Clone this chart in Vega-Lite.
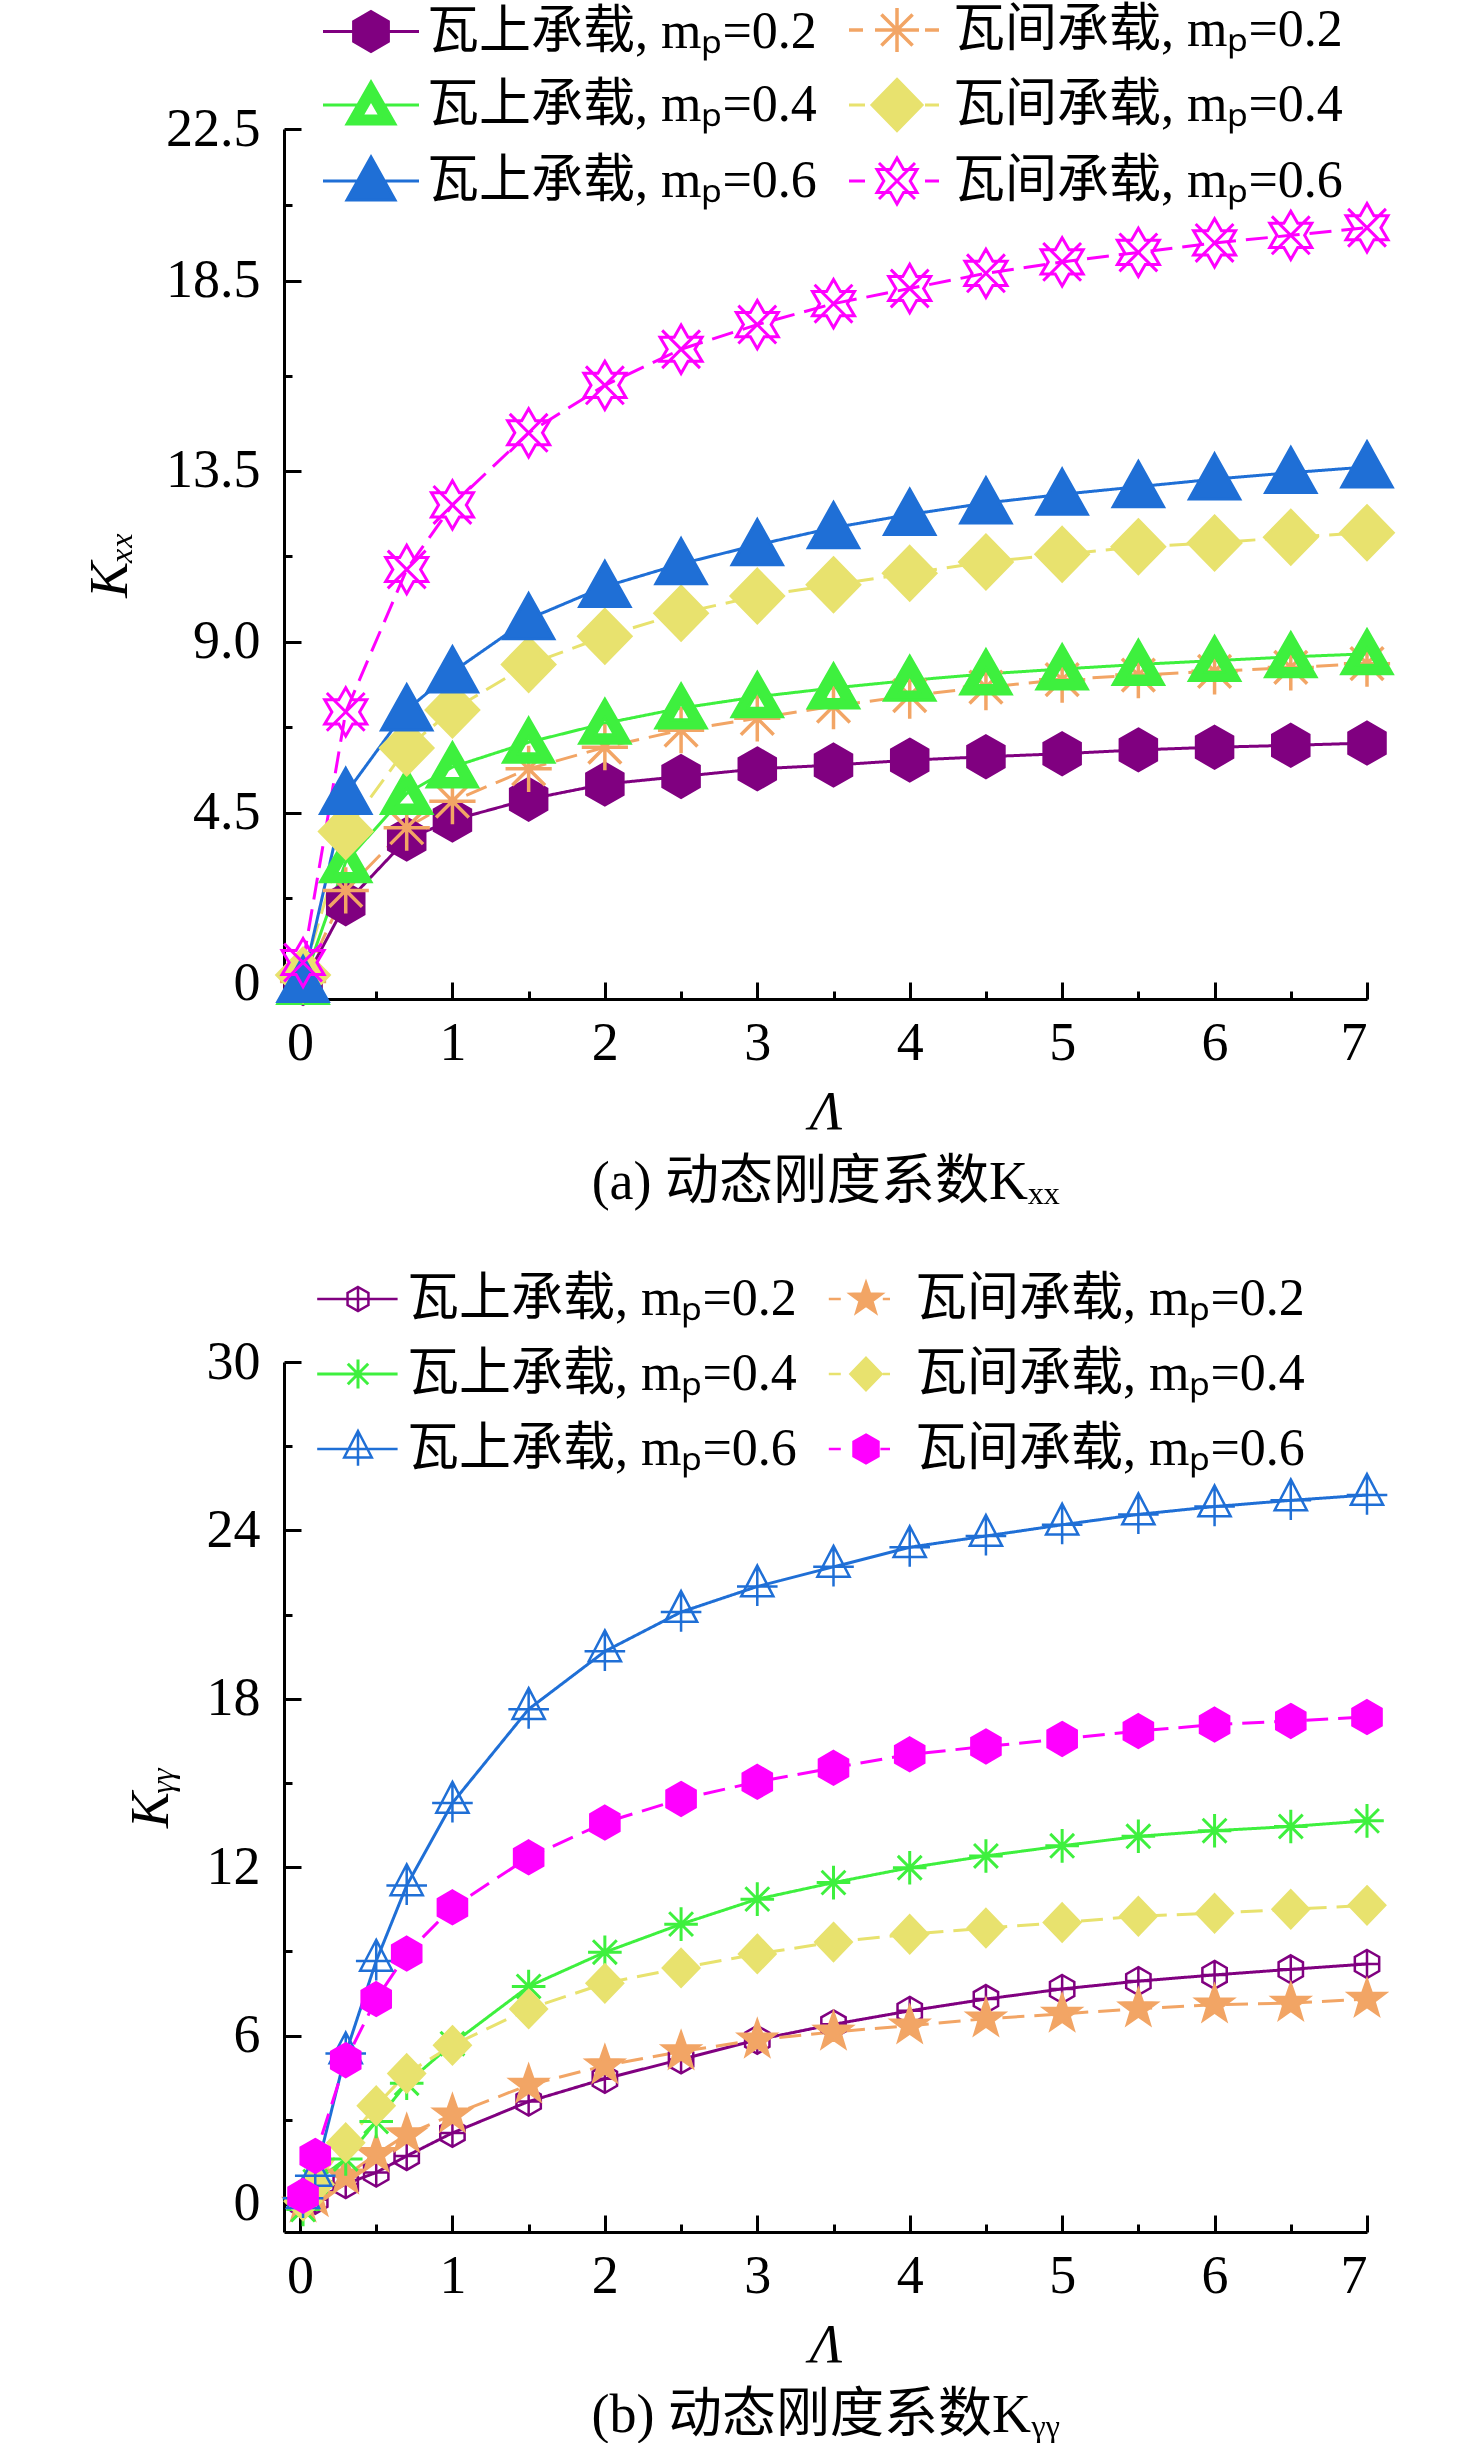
{
  "$schema": "https://vega.github.io/schema/vega-lite/v6.json",
  "background": "white",
  "padding": {"left": 83, "top": 4, "right": 0, "bottom": 0},
  "spacing": 63,
  "config": {
    "view": {"stroke": null},
    "font": "'Liberation Serif', 'Noto Sans CJK SC', serif",
    "axis": {
      "grid": false, "domainColor": "black", "domainWidth": 3, "tickColor": "black", "tickWidth": 3,
      "labelColor": "black", "labelFontSize": 54, "labelFont": "'Liberation Serif', 'Noto Sans CJK SC', serif",
      "titleFont": "'Liberation Serif', 'Noto Sans CJK SC', serif", "titleFontSize": 54, "titleFontWeight": "normal",
      "titleColor": "black", "titleFontStyle": "italic"
    },
    "legend": {"labelFont": "'Liberation Serif', 'Noto Sans CJK SC', serif", "labelFontSize": 52, "labelColor": "black", "labelLimit": 0},
    "title": {"font": "'Liberation Serif', 'Noto Sans CJK SC', serif", "fontSize": 54, "fontWeight": "normal", "color": "black"}
  },
  "datasets": {
    "kxx": [
      {"series": "瓦上承载, mₚ=0.2", "bearing": "瓦上承载", "lam": 0.02, "k": 0},
      {"series": "瓦上承载, mₚ=0.2", "bearing": "瓦上承载", "lam": 0.3, "k": 2.1},
      {"series": "瓦上承载, mₚ=0.2", "bearing": "瓦上承载", "lam": 0.7, "k": 3.8},
      {"series": "瓦上承载, mₚ=0.2", "bearing": "瓦上承载", "lam": 1, "k": 4.3},
      {"series": "瓦上承载, mₚ=0.2", "bearing": "瓦上承载", "lam": 1.5, "k": 4.85},
      {"series": "瓦上承载, mₚ=0.2", "bearing": "瓦上承载", "lam": 2, "k": 5.25},
      {"series": "瓦上承载, mₚ=0.2", "bearing": "瓦上承载", "lam": 2.5, "k": 5.45},
      {"series": "瓦上承载, mₚ=0.2", "bearing": "瓦上承载", "lam": 3, "k": 5.65},
      {"series": "瓦上承载, mₚ=0.2", "bearing": "瓦上承载", "lam": 3.5, "k": 5.75},
      {"series": "瓦上承载, mₚ=0.2", "bearing": "瓦上承载", "lam": 4, "k": 5.88},
      {"series": "瓦上承载, mₚ=0.2", "bearing": "瓦上承载", "lam": 4.5, "k": 5.97},
      {"series": "瓦上承载, mₚ=0.2", "bearing": "瓦上承载", "lam": 5, "k": 6.05},
      {"series": "瓦上承载, mₚ=0.2", "bearing": "瓦上承载", "lam": 5.5, "k": 6.15},
      {"series": "瓦上承载, mₚ=0.2", "bearing": "瓦上承载", "lam": 6, "k": 6.22},
      {"series": "瓦上承载, mₚ=0.2", "bearing": "瓦上承载", "lam": 6.5, "k": 6.27},
      {"series": "瓦上承载, mₚ=0.2", "bearing": "瓦上承载", "lam": 7, "k": 6.33},
      {"series": "瓦间承载, mₚ=0.2", "bearing": "瓦间承载", "lam": 0.02, "k": 0.05},
      {"series": "瓦间承载, mₚ=0.2", "bearing": "瓦间承载", "lam": 0.3, "k": 2.45},
      {"series": "瓦间承载, mₚ=0.2", "bearing": "瓦间承载", "lam": 0.7, "k": 4.1},
      {"series": "瓦间承载, mₚ=0.2", "bearing": "瓦间承载", "lam": 1, "k": 4.8},
      {"series": "瓦间承载, mₚ=0.2", "bearing": "瓦间承载", "lam": 1.5, "k": 5.65},
      {"series": "瓦间承载, mₚ=0.2", "bearing": "瓦间承载", "lam": 2, "k": 6.22},
      {"series": "瓦间承载, mₚ=0.2", "bearing": "瓦间承载", "lam": 2.5, "k": 6.67},
      {"series": "瓦间承载, mₚ=0.2", "bearing": "瓦间承载", "lam": 3, "k": 6.98},
      {"series": "瓦间承载, mₚ=0.2", "bearing": "瓦间承载", "lam": 3.5, "k": 7.3},
      {"series": "瓦间承载, mₚ=0.2", "bearing": "瓦间承载", "lam": 4, "k": 7.58},
      {"series": "瓦间承载, mₚ=0.2", "bearing": "瓦间承载", "lam": 4.5, "k": 7.8},
      {"series": "瓦间承载, mₚ=0.2", "bearing": "瓦间承载", "lam": 5, "k": 8.0},
      {"series": "瓦间承载, mₚ=0.2", "bearing": "瓦间承载", "lam": 5.5, "k": 8.12},
      {"series": "瓦间承载, mₚ=0.2", "bearing": "瓦间承载", "lam": 6, "k": 8.22},
      {"series": "瓦间承载, mₚ=0.2", "bearing": "瓦间承载", "lam": 6.5, "k": 8.32},
      {"series": "瓦间承载, mₚ=0.2", "bearing": "瓦间承载", "lam": 7, "k": 8.42},
      {"series": "瓦上承载, mₚ=0.4", "bearing": "瓦上承载", "lam": 0.02, "k": 0},
      {"series": "瓦上承载, mₚ=0.4", "bearing": "瓦上承载", "lam": 0.3, "k": 3.2},
      {"series": "瓦上承载, mₚ=0.4", "bearing": "瓦上承载", "lam": 0.7, "k": 5.0},
      {"series": "瓦上承载, mₚ=0.4", "bearing": "瓦上承载", "lam": 1, "k": 5.7},
      {"series": "瓦上承载, mₚ=0.4", "bearing": "瓦上承载", "lam": 1.5, "k": 6.35},
      {"series": "瓦上承载, mₚ=0.4", "bearing": "瓦上承载", "lam": 2, "k": 6.85},
      {"series": "瓦上承载, mₚ=0.4", "bearing": "瓦上承载", "lam": 2.5, "k": 7.25},
      {"series": "瓦上承载, mₚ=0.4", "bearing": "瓦上承载", "lam": 3, "k": 7.55},
      {"series": "瓦上承载, mₚ=0.4", "bearing": "瓦上承载", "lam": 3.5, "k": 7.78},
      {"series": "瓦上承载, mₚ=0.4", "bearing": "瓦上承载", "lam": 4, "k": 7.98},
      {"series": "瓦上承载, mₚ=0.4", "bearing": "瓦上承载", "lam": 4.5, "k": 8.15},
      {"series": "瓦上承载, mₚ=0.4", "bearing": "瓦上承载", "lam": 5, "k": 8.28},
      {"series": "瓦上承载, mₚ=0.4", "bearing": "瓦上承载", "lam": 5.5, "k": 8.4},
      {"series": "瓦上承载, mₚ=0.4", "bearing": "瓦上承载", "lam": 6, "k": 8.5},
      {"series": "瓦上承载, mₚ=0.4", "bearing": "瓦上承载", "lam": 6.5, "k": 8.6},
      {"series": "瓦上承载, mₚ=0.4", "bearing": "瓦上承载", "lam": 7, "k": 8.68},
      {"series": "瓦间承载, mₚ=0.4", "bearing": "瓦间承载", "lam": 0.02, "k": 0.22},
      {"series": "瓦间承载, mₚ=0.4", "bearing": "瓦间承载", "lam": 0.3, "k": 4.0},
      {"series": "瓦间承载, mₚ=0.4", "bearing": "瓦间承载", "lam": 0.7, "k": 6.2},
      {"series": "瓦间承载, mₚ=0.4", "bearing": "瓦间承载", "lam": 1, "k": 7.2},
      {"series": "瓦间承载, mₚ=0.4", "bearing": "瓦间承载", "lam": 1.5, "k": 8.4},
      {"series": "瓦间承载, mₚ=0.4", "bearing": "瓦间承载", "lam": 2, "k": 9.14},
      {"series": "瓦间承载, mₚ=0.4", "bearing": "瓦间承载", "lam": 2.5, "k": 9.75},
      {"series": "瓦间承载, mₚ=0.4", "bearing": "瓦间承载", "lam": 3, "k": 10.2},
      {"series": "瓦间承载, mₚ=0.4", "bearing": "瓦间承载", "lam": 3.5, "k": 10.5},
      {"series": "瓦间承载, mₚ=0.4", "bearing": "瓦间承载", "lam": 4, "k": 10.8},
      {"series": "瓦间承载, mₚ=0.4", "bearing": "瓦间承载", "lam": 4.5, "k": 11.1},
      {"series": "瓦间承载, mₚ=0.4", "bearing": "瓦间承载", "lam": 5, "k": 11.3},
      {"series": "瓦间承载, mₚ=0.4", "bearing": "瓦间承载", "lam": 5.5, "k": 11.5},
      {"series": "瓦间承载, mₚ=0.4", "bearing": "瓦间承载", "lam": 6, "k": 11.6},
      {"series": "瓦间承载, mₚ=0.4", "bearing": "瓦间承载", "lam": 6.5, "k": 11.75},
      {"series": "瓦间承载, mₚ=0.4", "bearing": "瓦间承载", "lam": 7, "k": 11.87},
      {"series": "瓦上承载, mₚ=0.6", "bearing": "瓦上承载", "lam": 0.02, "k": 0.05},
      {"series": "瓦上承载, mₚ=0.6", "bearing": "瓦上承载", "lam": 0.3, "k": 5.0},
      {"series": "瓦上承载, mₚ=0.6", "bearing": "瓦上承载", "lam": 0.7, "k": 7.2},
      {"series": "瓦上承载, mₚ=0.6", "bearing": "瓦上承载", "lam": 1, "k": 8.2},
      {"series": "瓦上承载, mₚ=0.6", "bearing": "瓦上承载", "lam": 1.5, "k": 9.6},
      {"series": "瓦上承载, mₚ=0.6", "bearing": "瓦上承载", "lam": 2, "k": 10.45},
      {"series": "瓦上承载, mₚ=0.6", "bearing": "瓦上承载", "lam": 2.5, "k": 11.05},
      {"series": "瓦上承载, mₚ=0.6", "bearing": "瓦上承载", "lam": 3, "k": 11.55},
      {"series": "瓦上承载, mₚ=0.6", "bearing": "瓦上承载", "lam": 3.5, "k": 12.0},
      {"series": "瓦上承载, mₚ=0.6", "bearing": "瓦上承载", "lam": 4, "k": 12.35},
      {"series": "瓦上承载, mₚ=0.6", "bearing": "瓦上承载", "lam": 4.5, "k": 12.65},
      {"series": "瓦上承载, mₚ=0.6", "bearing": "瓦上承载", "lam": 5, "k": 12.88},
      {"series": "瓦上承载, mₚ=0.6", "bearing": "瓦上承载", "lam": 5.5, "k": 13.08},
      {"series": "瓦上承载, mₚ=0.6", "bearing": "瓦上承载", "lam": 6, "k": 13.28},
      {"series": "瓦上承载, mₚ=0.6", "bearing": "瓦上承载", "lam": 6.5, "k": 13.45},
      {"series": "瓦上承载, mₚ=0.6", "bearing": "瓦上承载", "lam": 7, "k": 13.6},
      {"series": "瓦间承载, mₚ=0.6", "bearing": "瓦间承载", "lam": 0.02, "k": 0.55},
      {"series": "瓦间承载, mₚ=0.6", "bearing": "瓦间承载", "lam": 0.3, "k": 7.15},
      {"series": "瓦间承载, mₚ=0.6", "bearing": "瓦间承载", "lam": 0.7, "k": 10.9},
      {"series": "瓦间承载, mₚ=0.6", "bearing": "瓦间承载", "lam": 1, "k": 12.6},
      {"series": "瓦间承载, mₚ=0.6", "bearing": "瓦间承载", "lam": 1.5, "k": 14.5},
      {"series": "瓦间承载, mₚ=0.6", "bearing": "瓦间承载", "lam": 2, "k": 15.75},
      {"series": "瓦间承载, mₚ=0.6", "bearing": "瓦间承载", "lam": 2.5, "k": 16.7},
      {"series": "瓦间承载, mₚ=0.6", "bearing": "瓦间承载", "lam": 3, "k": 17.35},
      {"series": "瓦间承载, mₚ=0.6", "bearing": "瓦间承载", "lam": 3.5, "k": 17.9},
      {"series": "瓦间承载, mₚ=0.6", "bearing": "瓦间承载", "lam": 4, "k": 18.3},
      {"series": "瓦间承载, mₚ=0.6", "bearing": "瓦间承载", "lam": 4.5, "k": 18.7},
      {"series": "瓦间承载, mₚ=0.6", "bearing": "瓦间承载", "lam": 5, "k": 19.0},
      {"series": "瓦间承载, mₚ=0.6", "bearing": "瓦间承载", "lam": 5.5, "k": 19.25},
      {"series": "瓦间承载, mₚ=0.6", "bearing": "瓦间承载", "lam": 6, "k": 19.5},
      {"series": "瓦间承载, mₚ=0.6", "bearing": "瓦间承载", "lam": 6.5, "k": 19.7},
      {"series": "瓦间承载, mₚ=0.6", "bearing": "瓦间承载", "lam": 7, "k": 19.9}
    ],
    "kyy": [
      {"series": "瓦上承载, mₚ=0.2", "bearing": "瓦上承载", "lam": 0.02, "k": 0},
      {"series": "瓦上承载, mₚ=0.2", "bearing": "瓦上承载", "lam": 0.1, "k": 0.15},
      {"series": "瓦上承载, mₚ=0.2", "bearing": "瓦上承载", "lam": 0.3, "k": 0.71},
      {"series": "瓦上承载, mₚ=0.2", "bearing": "瓦上承载", "lam": 0.5, "k": 1.12},
      {"series": "瓦上承载, mₚ=0.2", "bearing": "瓦上承载", "lam": 0.7, "k": 1.71},
      {"series": "瓦上承载, mₚ=0.2", "bearing": "瓦上承载", "lam": 1, "k": 2.53},
      {"series": "瓦上承载, mₚ=0.2", "bearing": "瓦上承载", "lam": 1.5, "k": 3.65},
      {"series": "瓦上承载, mₚ=0.2", "bearing": "瓦上承载", "lam": 2, "k": 4.46},
      {"series": "瓦上承载, mₚ=0.2", "bearing": "瓦上承载", "lam": 2.5, "k": 5.15},
      {"series": "瓦上承载, mₚ=0.2", "bearing": "瓦上承载", "lam": 3, "k": 5.85},
      {"series": "瓦上承载, mₚ=0.2", "bearing": "瓦上承载", "lam": 3.5, "k": 6.4},
      {"series": "瓦上承载, mₚ=0.2", "bearing": "瓦上承载", "lam": 4, "k": 6.88},
      {"series": "瓦上承载, mₚ=0.2", "bearing": "瓦上承载", "lam": 4.5, "k": 7.3},
      {"series": "瓦上承载, mₚ=0.2", "bearing": "瓦上承载", "lam": 5, "k": 7.66},
      {"series": "瓦上承载, mₚ=0.2", "bearing": "瓦上承载", "lam": 5.5, "k": 7.94},
      {"series": "瓦上承载, mₚ=0.2", "bearing": "瓦上承载", "lam": 6, "k": 8.16},
      {"series": "瓦上承载, mₚ=0.2", "bearing": "瓦上承载", "lam": 6.5, "k": 8.36},
      {"series": "瓦上承载, mₚ=0.2", "bearing": "瓦上承载", "lam": 7, "k": 8.55},
      {"series": "瓦间承载, mₚ=0.2", "bearing": "瓦间承载", "lam": 0.02, "k": 0},
      {"series": "瓦间承载, mₚ=0.2", "bearing": "瓦间承载", "lam": 0.1, "k": 0.2},
      {"series": "瓦间承载, mₚ=0.2", "bearing": "瓦间承载", "lam": 0.3, "k": 1.0},
      {"series": "瓦间承载, mₚ=0.2", "bearing": "瓦间承载", "lam": 0.5, "k": 1.77},
      {"series": "瓦间承载, mₚ=0.2", "bearing": "瓦间承载", "lam": 0.7, "k": 2.47},
      {"series": "瓦间承载, mₚ=0.2", "bearing": "瓦间承载", "lam": 1, "k": 3.18},
      {"series": "瓦间承载, mₚ=0.2", "bearing": "瓦间承载", "lam": 1.5, "k": 4.24},
      {"series": "瓦间承载, mₚ=0.2", "bearing": "瓦间承载", "lam": 2, "k": 4.93},
      {"series": "瓦间承载, mₚ=0.2", "bearing": "瓦间承载", "lam": 2.5, "k": 5.43},
      {"series": "瓦间承载, mₚ=0.2", "bearing": "瓦间承载", "lam": 3, "k": 5.85},
      {"series": "瓦间承载, mₚ=0.2", "bearing": "瓦间承载", "lam": 3.5, "k": 6.13},
      {"series": "瓦间承载, mₚ=0.2", "bearing": "瓦间承载", "lam": 4, "k": 6.35},
      {"series": "瓦间承载, mₚ=0.2", "bearing": "瓦间承载", "lam": 4.5, "k": 6.6},
      {"series": "瓦间承载, mₚ=0.2", "bearing": "瓦间承载", "lam": 5, "k": 6.77},
      {"series": "瓦间承载, mₚ=0.2", "bearing": "瓦间承载", "lam": 5.5, "k": 6.96},
      {"series": "瓦间承载, mₚ=0.2", "bearing": "瓦间承载", "lam": 6, "k": 7.1},
      {"series": "瓦间承载, mₚ=0.2", "bearing": "瓦间承载", "lam": 6.5, "k": 7.16},
      {"series": "瓦间承载, mₚ=0.2", "bearing": "瓦间承载", "lam": 7, "k": 7.3},
      {"series": "瓦上承载, mₚ=0.4", "bearing": "瓦上承载", "lam": 0.02, "k": -0.2},
      {"series": "瓦上承载, mₚ=0.4", "bearing": "瓦上承载", "lam": 0.1, "k": 0.8},
      {"series": "瓦上承载, mₚ=0.4", "bearing": "瓦上承载", "lam": 0.3, "k": 1.6},
      {"series": "瓦上承载, mₚ=0.4", "bearing": "瓦上承载", "lam": 0.5, "k": 2.94},
      {"series": "瓦上承载, mₚ=0.4", "bearing": "瓦上承载", "lam": 0.7, "k": 4.3},
      {"series": "瓦上承载, mₚ=0.4", "bearing": "瓦上承载", "lam": 1, "k": 5.71},
      {"series": "瓦上承载, mₚ=0.4", "bearing": "瓦上承载", "lam": 1.5, "k": 7.75},
      {"series": "瓦上承载, mₚ=0.4", "bearing": "瓦上承载", "lam": 2, "k": 8.97},
      {"series": "瓦上承载, mₚ=0.4", "bearing": "瓦上承载", "lam": 2.5, "k": 9.97},
      {"series": "瓦上承载, mₚ=0.4", "bearing": "瓦上承载", "lam": 3, "k": 10.86},
      {"series": "瓦上承载, mₚ=0.4", "bearing": "瓦上承载", "lam": 3.5, "k": 11.45},
      {"series": "瓦上承载, mₚ=0.4", "bearing": "瓦上承载", "lam": 4, "k": 11.98},
      {"series": "瓦上承载, mₚ=0.4", "bearing": "瓦上承载", "lam": 4.5, "k": 12.4},
      {"series": "瓦上承载, mₚ=0.4", "bearing": "瓦上承载", "lam": 5, "k": 12.76},
      {"series": "瓦上承载, mₚ=0.4", "bearing": "瓦上承载", "lam": 5.5, "k": 13.1},
      {"series": "瓦上承载, mₚ=0.4", "bearing": "瓦上承载", "lam": 6, "k": 13.3},
      {"series": "瓦上承载, mₚ=0.4", "bearing": "瓦上承载", "lam": 6.5, "k": 13.45},
      {"series": "瓦上承载, mₚ=0.4", "bearing": "瓦上承载", "lam": 7, "k": 13.65},
      {"series": "瓦间承载, mₚ=0.4", "bearing": "瓦间承载", "lam": 0.02, "k": 0.1},
      {"series": "瓦间承载, mₚ=0.4", "bearing": "瓦间承载", "lam": 0.1, "k": 0.7},
      {"series": "瓦间承载, mₚ=0.4", "bearing": "瓦间承载", "lam": 0.3, "k": 2.18},
      {"series": "瓦间承载, mₚ=0.4", "bearing": "瓦间承载", "lam": 0.5, "k": 3.5},
      {"series": "瓦间承载, mₚ=0.4", "bearing": "瓦间承载", "lam": 0.7, "k": 4.65},
      {"series": "瓦间承载, mₚ=0.4", "bearing": "瓦间承载", "lam": 1, "k": 5.65},
      {"series": "瓦间承载, mₚ=0.4", "bearing": "瓦间承载", "lam": 1.5, "k": 6.95},
      {"series": "瓦间承载, mₚ=0.4", "bearing": "瓦间承载", "lam": 2, "k": 7.86},
      {"series": "瓦间承载, mₚ=0.4", "bearing": "瓦间承载", "lam": 2.5, "k": 8.41},
      {"series": "瓦间承载, mₚ=0.4", "bearing": "瓦间承载", "lam": 3, "k": 8.91},
      {"series": "瓦间承载, mₚ=0.4", "bearing": "瓦间承载", "lam": 3.5, "k": 9.33},
      {"series": "瓦间承载, mₚ=0.4", "bearing": "瓦间承载", "lam": 4, "k": 9.61},
      {"series": "瓦间承载, mₚ=0.4", "bearing": "瓦间承载", "lam": 4.5, "k": 9.83},
      {"series": "瓦间承载, mₚ=0.4", "bearing": "瓦间承载", "lam": 5, "k": 10.03},
      {"series": "瓦间承载, mₚ=0.4", "bearing": "瓦间承载", "lam": 5.5, "k": 10.25},
      {"series": "瓦间承载, mₚ=0.4", "bearing": "瓦间承载", "lam": 6, "k": 10.36},
      {"series": "瓦间承载, mₚ=0.4", "bearing": "瓦间承载", "lam": 6.5, "k": 10.5},
      {"series": "瓦间承载, mₚ=0.4", "bearing": "瓦间承载", "lam": 7, "k": 10.64},
      {"series": "瓦上承载, mₚ=0.6", "bearing": "瓦上承载", "lam": 0.02, "k": 0.2},
      {"series": "瓦上承载, mₚ=0.6", "bearing": "瓦上承载", "lam": 0.1, "k": 1.0},
      {"series": "瓦上承载, mₚ=0.6", "bearing": "瓦上承载", "lam": 0.3, "k": 5.36},
      {"series": "瓦上承载, mₚ=0.6", "bearing": "瓦上承载", "lam": 0.5, "k": 8.66},
      {"series": "瓦上承载, mₚ=0.6", "bearing": "瓦上承载", "lam": 0.7, "k": 11.35},
      {"series": "瓦上承载, mₚ=0.6", "bearing": "瓦上承载", "lam": 1, "k": 14.29},
      {"series": "瓦上承载, mₚ=0.6", "bearing": "瓦上承载", "lam": 1.5, "k": 17.63},
      {"series": "瓦上承载, mₚ=0.6", "bearing": "瓦上承载", "lam": 2, "k": 19.69},
      {"series": "瓦上承载, mₚ=0.6", "bearing": "瓦上承载", "lam": 2.5, "k": 21.09},
      {"series": "瓦上承载, mₚ=0.6", "bearing": "瓦上承载", "lam": 3, "k": 22.0},
      {"series": "瓦上承载, mₚ=0.6", "bearing": "瓦上承载", "lam": 3.5, "k": 22.7},
      {"series": "瓦上承载, mₚ=0.6", "bearing": "瓦上承载", "lam": 4, "k": 23.4},
      {"series": "瓦上承载, mₚ=0.6", "bearing": "瓦上承载", "lam": 4.5, "k": 23.8},
      {"series": "瓦上承载, mₚ=0.6", "bearing": "瓦上承载", "lam": 5, "k": 24.2},
      {"series": "瓦上承载, mₚ=0.6", "bearing": "瓦上承载", "lam": 5.5, "k": 24.57},
      {"series": "瓦上承载, mₚ=0.6", "bearing": "瓦上承载", "lam": 6, "k": 24.85},
      {"series": "瓦上承载, mₚ=0.6", "bearing": "瓦上承载", "lam": 6.5, "k": 25.07},
      {"series": "瓦上承载, mₚ=0.6", "bearing": "瓦上承载", "lam": 7, "k": 25.26},
      {"series": "瓦间承载, mₚ=0.6", "bearing": "瓦间承载", "lam": 0.02, "k": 0.29},
      {"series": "瓦间承载, mₚ=0.6", "bearing": "瓦间承载", "lam": 0.1, "k": 1.71},
      {"series": "瓦间承载, mₚ=0.6", "bearing": "瓦间承载", "lam": 0.3, "k": 5.12},
      {"series": "瓦间承载, mₚ=0.6", "bearing": "瓦间承载", "lam": 0.5, "k": 7.3},
      {"series": "瓦间承载, mₚ=0.6", "bearing": "瓦间承载", "lam": 0.7, "k": 8.92},
      {"series": "瓦间承载, mₚ=0.6", "bearing": "瓦间承载", "lam": 1, "k": 10.57},
      {"series": "瓦间承载, mₚ=0.6", "bearing": "瓦间承载", "lam": 1.5, "k": 12.35},
      {"series": "瓦间承载, mₚ=0.6", "bearing": "瓦间承载", "lam": 2, "k": 13.59},
      {"series": "瓦间承载, mₚ=0.6", "bearing": "瓦间承载", "lam": 2.5, "k": 14.43},
      {"series": "瓦间承载, mₚ=0.6", "bearing": "瓦间承载", "lam": 3, "k": 15.04},
      {"series": "瓦间承载, mₚ=0.6", "bearing": "瓦间承载", "lam": 3.5, "k": 15.54},
      {"series": "瓦间承载, mₚ=0.6", "bearing": "瓦间承载", "lam": 4, "k": 16.02},
      {"series": "瓦间承载, mₚ=0.6", "bearing": "瓦间承载", "lam": 4.5, "k": 16.3},
      {"series": "瓦间承载, mₚ=0.6", "bearing": "瓦间承载", "lam": 5, "k": 16.57},
      {"series": "瓦间承载, mₚ=0.6", "bearing": "瓦间承载", "lam": 5.5, "k": 16.85},
      {"series": "瓦间承载, mₚ=0.6", "bearing": "瓦间承载", "lam": 6, "k": 17.08},
      {"series": "瓦间承载, mₚ=0.6", "bearing": "瓦间承载", "lam": 6.5, "k": 17.21},
      {"series": "瓦间承载, mₚ=0.6", "bearing": "瓦间承载", "lam": 7, "k": 17.35}
    ]
  },
  "vconcat": [
    {
      "width": 1083,
      "height": 870,
      "data": {"name": "kxx"},
      "title": {"text": "(a) 动态刚度系数Kₓₓ", "orient": "bottom", "frame": "group", "anchor": "middle", "offset": 17},
      "layer": [
        {
          "mark": {"type": "line", "strokeWidth": 3},
          "encoding": {
            "x": {"field": "lam", "type": "quantitative", "scale": {"domain": [-0.105, 7], "nice": false, "zero": false},
              "axis": {"orient": "bottom", "values": [0, 1, 2, 3, 4, 5, 6, 7], "tickSize": -17, "labelPadding": 34, "title": "Λ", "titlePadding": 15}},
            "y": {"field": "k", "type": "quantitative", "scale": {"domain": [-0.41, 22.5], "nice": false, "zero": false},
              "axis": {"orient": "left", "values": [0, 4.5, 9, 13.5, 18.5, 22.5], "labelExpr": "datum.value == 0 ? '0' : format(datum.value, '.1f')", "tickSize": -17, "labelPadding": 41, "title": "Kₓₓ", "titlePadding": 28}},
            "stroke": {"field": "series", "type": "nominal",
              "scale": {"domain": ["瓦上承载, mₚ=0.2", "瓦间承载, mₚ=0.2", "瓦上承载, mₚ=0.4", "瓦间承载, mₚ=0.4", "瓦上承载, mₚ=0.6", "瓦间承载, mₚ=0.6"],
                "range": ["#800080", "#F2A565", "#3EF03E", "#E8E26E", "#1F6FD6", "#FF00FF"]},
              "legend": {
                "orient": "none", "legendX": 61, "legendY": -125, "columns": 2, "direction": "horizontal", "title": null, "padding": 0,
                "symbolSize": 1600, "rowPadding": 14, "columnPadding": 25, "labelOffset": 30,
                "encode": {"symbols": {"update": {"shape": {"signal": "['M0,-1L0.87,-0.5L0.87,0.5L0,1L-0.87,0.5L-0.87,-0.5ZM-2.4,0L-0.87,0M0.87,0L2.4,0', 'M-1.1,0L1.1,0M0,-1.1L0,1.1M-0.78,-0.78L0.78,0.78M-0.78,0.78L0.78,-0.78M-2.4,0L-1.7,0M1.4,0L2.1,0', 'M0,-1.15L1.2,0.95L-1.2,0.95ZM0,-0.25L-0.46,0.55L0.46,0.55ZM-2.4,0L-0.6,0M0.6,0L2.4,0', 'M0,-1.28L1.25,0L0,1.28L-1.25,0ZM-2.4,0L-1.6,0M1.4,0L2.1,0', 'M0,-1.2L1.2,0.95L-1.2,0.95ZM-2.4,0L-0.6,0M0.6,0L2.4,0', 'M0,-1.15L0.33,-0.575L1,-0.575L0.66,0L1,0.575L0.33,0.575L0,1.15L-0.33,0.575L-1,0.575L-0.66,0L-1,-0.575L-0.33,-0.575ZM-0.9,-0.9L0.9,0.9M-0.9,0.9L0.9,-0.9M-2.4,0L-1.6,0M1.4,0L2.1,0'][indexof(['瓦上承载, mₚ=0.2', '瓦间承载, mₚ=0.2', '瓦上承载, mₚ=0.4', '瓦间承载, mₚ=0.4', '瓦上承载, mₚ=0.6', '瓦间承载, mₚ=0.6'], datum.value)]"}}}}
              }},
            "strokeDash": {"field": "bearing", "type": "nominal", "scale": {"domain": ["瓦上承载", "瓦间承载"], "range": [[1, 0], [22, 10]]}, "legend": null}
          }
        },
        {
          "mark": {"type": "point", "size": 1764, "opacity": 1},
          "encoding": {
            "x": {"field": "lam", "type": "quantitative",
              "axis": {"orient": "bottom", "values": [0.5, 1.5, 2.5, 3.5, 4.5, 5.5, 6.5], "labels": false, "domain": false, "tickSize": -8, "title": null}},
            "y": {"field": "k", "type": "quantitative",
              "axis": {"orient": "left", "values": [2.25, 6.75, 11.25, 16, 20.5], "labels": false, "domain": false, "tickSize": -8, "title": null}},
            "shape": {"field": "series", "type": "nominal", "legend": null,
              "scale": {"domain": ["瓦间承载, mₚ=0.6", "瓦上承载, mₚ=0.6", "瓦间承载, mₚ=0.4", "瓦上承载, mₚ=0.4", "瓦间承载, mₚ=0.2", "瓦上承载, mₚ=0.2"],
                "range": ["M0,-1.15L0.33,-0.575L1,-0.575L0.66,0L1,0.575L0.33,0.575L0,1.15L-0.33,0.575L-1,0.575L-0.66,0L-1,-0.575L-0.33,-0.575ZM-0.9,-0.9L0.9,0.9M-0.9,0.9L0.9,-0.9", "M0,-1.2L1.2,0.95L-1.2,0.95Z", "M0,-1.28L1.25,0L0,1.28L-1.25,0Z", "M0,-1.15L1.2,0.95L-1.2,0.95ZM0,-0.25L-0.46,0.55L0.46,0.55Z", "M-1.1,0L1.1,0M0,-1.1L0,1.1M-0.78,-0.78L0.78,0.78M-0.78,0.78L0.78,-0.78", "M0,-1L0.87,-0.5L0.87,0.5L0,1L-0.87,0.5L-0.87,-0.5Z"]}},
            "fill": {"field": "series", "type": "nominal",
              "scale": {"domain": ["瓦上承载, mₚ=0.2", "瓦间承载, mₚ=0.2", "瓦上承载, mₚ=0.4", "瓦间承载, mₚ=0.4", "瓦上承载, mₚ=0.6", "瓦间承载, mₚ=0.6"],
                "range": ["#800080", "transparent", "#3EF03E", "#E8E26E", "#1F6FD6", "transparent"]}},
            "stroke": {"field": "series", "type": "nominal"},
            "strokeWidth": {"field": "series", "type": "nominal",
              "scale": {"type": "ordinal", "domain": ["瓦上承载, mₚ=0.2", "瓦间承载, mₚ=0.2", "瓦上承载, mₚ=0.4", "瓦间承载, mₚ=0.4", "瓦上承载, mₚ=0.6", "瓦间承载, mₚ=0.6"],
                "range": [3, 3.5, 3, 3, 3, 3]}}
          }
        }
      ],
      "resolve": {"axis": {"x": "independent", "y": "independent"}}
    },
    {
      "width": 1083,
      "height": 870,
      "data": {"name": "kyy"},
      "title": {"text": "(b) 动态刚度系数Kᵧᵧ", "orient": "bottom", "frame": "group", "anchor": "middle", "offset": 17},
      "layer": [
        {
          "mark": {"type": "line", "strokeWidth": 3},
          "encoding": {
            "x": {"field": "lam", "type": "quantitative", "scale": {"domain": [-0.105, 7], "nice": false, "zero": false},
              "axis": {"orient": "bottom", "values": [0, 1, 2, 3, 4, 5, 6, 7], "tickSize": -17, "labelPadding": 34, "title": "Λ", "titlePadding": 15}},
            "y": {"field": "k", "type": "quantitative", "scale": {"domain": [-1, 30], "nice": false, "zero": false},
              "axis": {"orient": "left", "values": [0, 6, 12, 18, 24, 30], "tickSize": -17, "labelPadding": 41, "title": "Kᵧᵧ", "titlePadding": 28}},
            "stroke": {"field": "series", "type": "nominal",
              "scale": {"domain": ["瓦上承载, mₚ=0.2", "瓦间承载, mₚ=0.2", "瓦上承载, mₚ=0.4", "瓦间承载, mₚ=0.4", "瓦上承载, mₚ=0.6", "瓦间承载, mₚ=0.6"],
                "range": ["#800080", "#F2A565", "#3EF03E", "#E8E26E", "#1F6FD6", "#FF00FF"]},
              "legend": {
                "orient": "none", "legendX": 48, "legendY": -89, "columns": 2, "direction": "horizontal", "title": null, "padding": 0,
                "symbolSize": 576, "rowPadding": 23, "columnPadding": 26, "labelOffset": 23,
                "encode": {"symbols": {"update": {"shape": {"signal": "['M0,-1L0.87,-0.5L0.87,0.5L0,1L-0.87,0.5L-0.87,-0.5ZM0,-1L0,1M-0.87,0L0.87,0M-3.4,0L-0.87,0M0.87,0L3.3,0', 'M0,-1.4L0.33,-0.45L1.33,-0.43L0.53,0.17L0.82,1.13L0,0.56L-0.82,1.13L-0.53,0.17L-1.33,-0.43L-0.33,-0.45ZM-3.1,0L-2.1,0M1.4,0L2.0,0', 'M-1.2,0L1.2,0M0,-1.2L0,1.2M-0.85,-0.85L0.85,0.85M-0.85,0.85L0.85,-0.85M-3.4,0L-1.2,0M1.2,0L3.3,0', 'M0,-1.35L1.3,0L0,1.35L-1.3,0ZM-3.1,0L-2.1,0M1.4,0L2.0,0', 'M0,-1.5L1.15,0.7L-1.15,0.7ZM-1.45,0L1.45,0M0,-1.5L0,1.4M-3.4,0L-1.45,0M1.45,0L3.3,0', 'M0,-1.2L1.04,-0.6L1.04,0.6L0,1.2L-1.04,0.6L-1.04,-0.6ZM-3.1,0L-2.1,0M1.2,0L2.0,0'][indexof(['瓦上承载, mₚ=0.2', '瓦间承载, mₚ=0.2', '瓦上承载, mₚ=0.4', '瓦间承载, mₚ=0.4', '瓦上承载, mₚ=0.6', '瓦间承载, mₚ=0.6'], datum.value)]"}}}}
              }},
            "strokeDash": {"field": "bearing", "type": "nominal", "scale": {"domain": ["瓦上承载", "瓦间承载"], "range": [[1, 0], [22, 10]]}, "legend": null}
          }
        },
        {
          "mark": {"type": "point", "size": 784, "opacity": 1},
          "encoding": {
            "x": {"field": "lam", "type": "quantitative",
              "axis": {"orient": "bottom", "values": [0.5, 1.5, 2.5, 3.5, 4.5, 5.5, 6.5], "labels": false, "domain": false, "tickSize": -8, "title": null}},
            "y": {"field": "k", "type": "quantitative",
              "axis": {"orient": "left", "values": [3, 9, 15, 21, 27], "labels": false, "domain": false, "tickSize": -8, "title": null}},
            "shape": {"field": "series", "type": "nominal", "legend": null,
              "scale": {"domain": ["瓦间承载, mₚ=0.6", "瓦上承载, mₚ=0.6", "瓦间承载, mₚ=0.4", "瓦上承载, mₚ=0.4", "瓦间承载, mₚ=0.2", "瓦上承载, mₚ=0.2"],
                "range": ["M0,-1.2L1.04,-0.6L1.04,0.6L0,1.2L-1.04,0.6L-1.04,-0.6Z", "M0,-1.5L1.15,0.7L-1.15,0.7ZM-1.45,0L1.45,0M0,-1.5L0,1.4", "M0,-1.35L1.3,0L0,1.35L-1.3,0Z", "M-1.2,0L1.2,0M0,-1.2L0,1.2M-0.85,-0.85L0.85,0.85M-0.85,0.85L0.85,-0.85", "M0,-1.4L0.33,-0.45L1.33,-0.43L0.53,0.17L0.82,1.13L0,0.56L-0.82,1.13L-0.53,0.17L-1.33,-0.43L-0.33,-0.45Z", "M0,-1L0.87,-0.5L0.87,0.5L0,1L-0.87,0.5L-0.87,-0.5ZM0,-1L0,1M-0.87,0L0.87,0"]}},
            "fill": {"field": "series", "type": "nominal",
              "scale": {"domain": ["瓦上承载, mₚ=0.2", "瓦间承载, mₚ=0.2", "瓦上承载, mₚ=0.4", "瓦间承载, mₚ=0.4", "瓦上承载, mₚ=0.6", "瓦间承载, mₚ=0.6"],
                "range": ["transparent", "#F2A565", "transparent", "#E8E26E", "transparent", "#FF00FF"]}},
            "stroke": {"field": "series", "type": "nominal"},
            "strokeWidth": {"field": "series", "type": "nominal",
              "scale": {"type": "ordinal", "domain": ["瓦上承载, mₚ=0.2", "瓦间承载, mₚ=0.2", "瓦上承载, mₚ=0.4", "瓦间承载, mₚ=0.4", "瓦上承载, mₚ=0.6", "瓦间承载, mₚ=0.6"],
                "range": [2.5, 2.5, 3, 2.5, 2.5, 2.5]}}
          }
        }
      ],
      "resolve": {"axis": {"x": "independent", "y": "independent"}}
    }
  ],
  "resolve": {
    "scale": {"shape": "independent", "fill": "independent", "stroke": "independent", "strokeWidth": "independent", "strokeDash": "independent"},
    "legend": {"shape": "independent", "fill": "independent", "stroke": "independent", "strokeWidth": "independent", "strokeDash": "independent"}
  }
}
